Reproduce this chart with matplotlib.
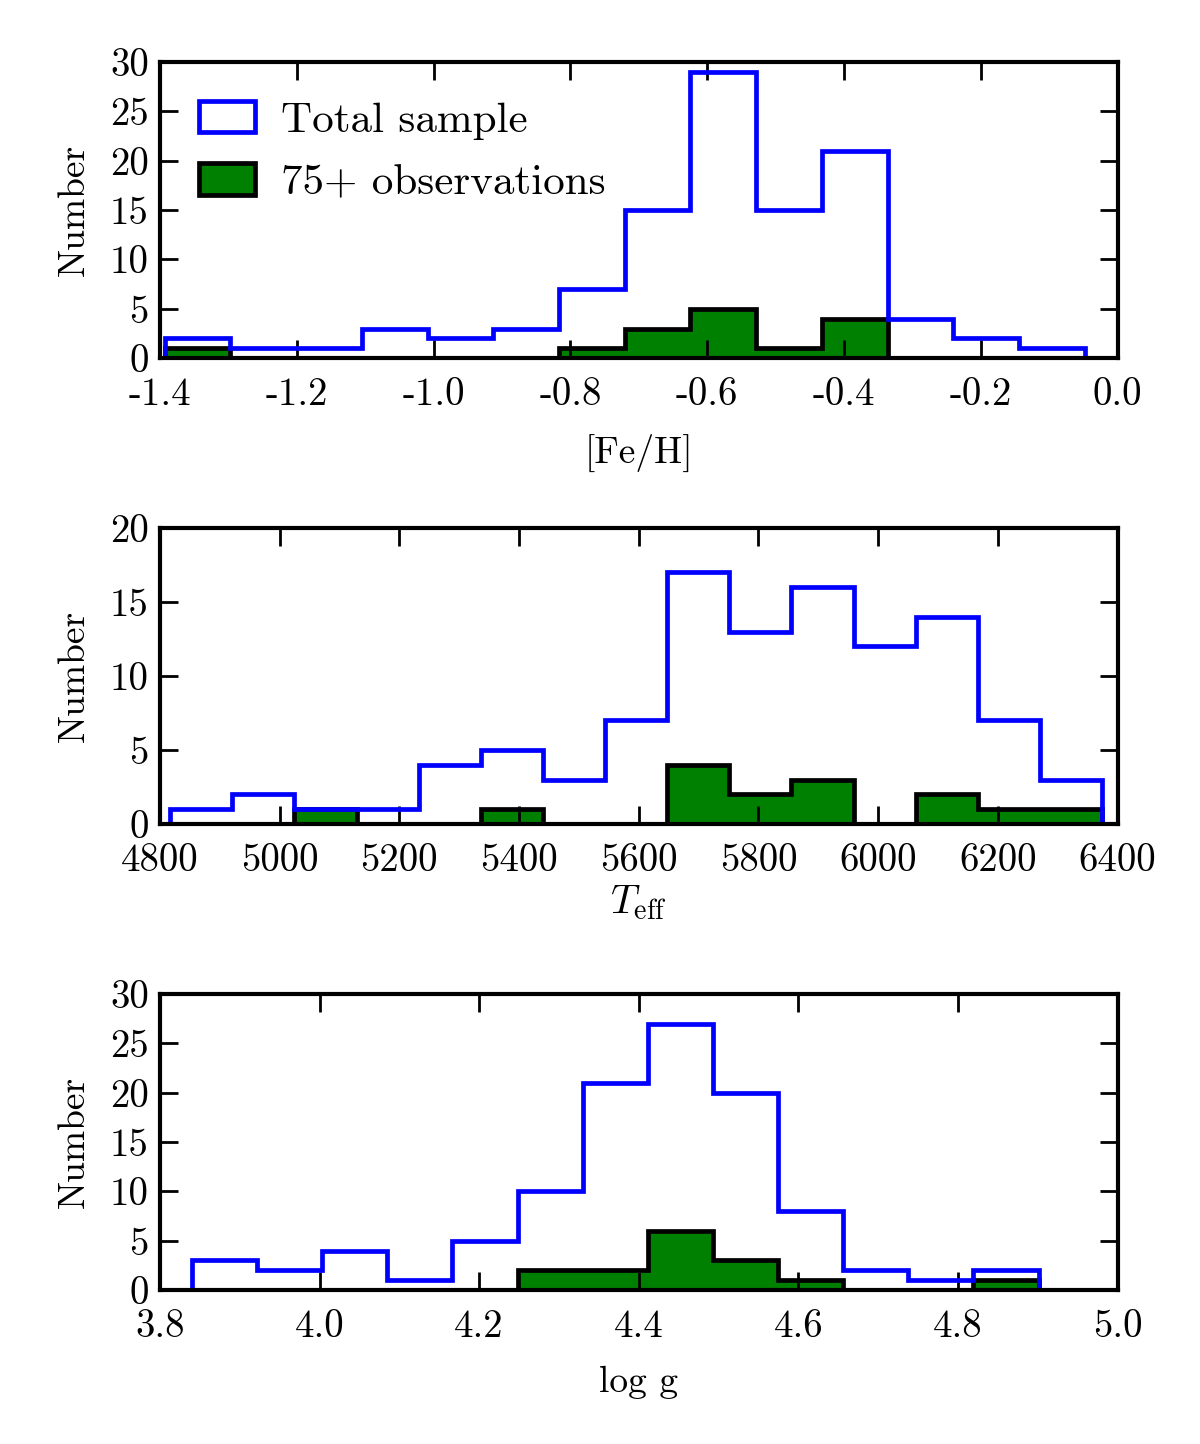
import numpy as np
import matplotlib
matplotlib.use('Agg')
import matplotlib.pyplot as plt

plt.rcParams['font.family'] = 'serif'
plt.rcParams['font.serif'] = ['cmr10', 'DejaVu Serif']
plt.rcParams['mathtext.fontset'] = 'cm'
plt.rcParams['axes.unicode_minus'] = False

# histogram data: bin range, counts for the full sample and the 75+ subset
feh_lo, feh_hi = -1.393, -0.048
feh_total = [2, 1, 1, 3, 2, 3, 7, 15, 29, 15, 21, 4, 2, 1]
feh_75 = [1, 0, 0, 0, 0, 0, 1, 3, 5, 1, 4, 0, 0, 0]

teff_lo, teff_hi = 4817, 6374
teff_total = [1, 2, 1, 1, 4, 5, 3, 7, 17, 13, 16, 12, 14, 7, 3]
teff_75 = [0, 0, 1, 0, 0, 1, 0, 0, 4, 2, 3, 0, 2, 1, 1]

logg_lo, logg_hi = 3.840, 4.901
logg_total = [3, 2, 4, 1, 5, 10, 21, 27, 20, 8, 2, 1, 2]
logg_75 = [0, 0, 0, 0, 0, 2, 2, 6, 3, 1, 0, 0, 1]

feh_ticks = ['-1.4', '-1.2', '-1.0', '-0.8', '-0.6', '-0.4', '-0.2', '0.0']
teff_ticks = ['4800', '5000', '5200', '5400', '5600', '5800', '6000', '6200', '6400']
logg_ticks = ['3.8', '4.0', '4.2', '4.4', '4.6', '4.8', '5.0']

fs = 28
lw = 3.4

fig = plt.figure(figsize=(12, 14.44), dpi=100)

panels = [
    (0.752, feh_lo, feh_hi, feh_total, feh_75, feh_ticks, (0, 30), '[Fe/H]', 15),
    (0.4294, teff_lo, teff_hi, teff_total, teff_75, teff_ticks, (0, 20), r'$T_{\rm eff}$', 3),
    (0.1066, logg_lo, logg_hi, logg_total, logg_75, logg_ticks, (0, 30), 'log g', 15),
]

for i, (bottom, lo, hi, total, sub, xticks, ylim, xlabel, lpad) in enumerate(panels):
    ax = fig.add_axes([0.1333, bottom, 0.798, 0.205])
    edges = np.linspace(lo, hi, len(total) + 1)
    centers = 0.5 * (edges[:-1] + edges[1:])
    ax.hist(centers, bins=edges, weights=total, histtype='step', color='b', lw=lw,
            label='Total sample')
    ax.hist(centers, bins=edges, weights=sub, histtype='stepfilled', facecolor='g',
            edgecolor='k', lw=lw, label='75+ observations')
    xt = [float(t) for t in xticks]
    ax.set_xlim(xt[0], xt[-1])
    ax.set_ylim(ylim)
    ax.set_xticks(xt)
    ax.set_xticklabels(xticks)
    ax.set_yticks(np.arange(ylim[0], ylim[1] + 1, 5))
    ax.tick_params(direction='in', top=True, right=True, length=13, width=2,
                   labelsize=fs)
    ax.tick_params(axis='x', pad=14)
    ax.tick_params(axis='y', pad=8)
    for sp in ax.spines.values():
        sp.set_linewidth(3)
    ax.set_ylabel('Number', fontsize=27, labelpad=14)
    ax.set_xlabel(xlabel, fontsize=29 if i == 1 else 27, labelpad=lpad)
    if i == 0:
        ax.legend(loc='upper left', frameon=False, fontsize=31, handlelength=1.3,
                  handleheight=0.75, handletextpad=0.6, labelspacing=0.55,
                  borderaxespad=0.5)

fig.savefig('out.png', dpi=100)
